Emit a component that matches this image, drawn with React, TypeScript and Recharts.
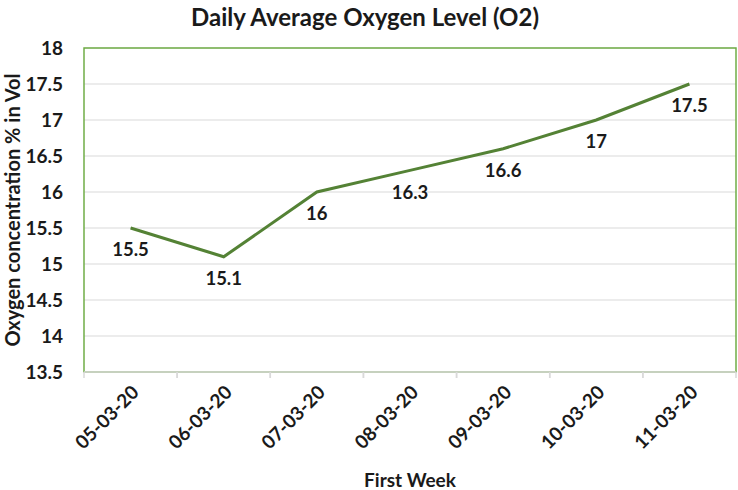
import React from "react";
import { LineChart, Line, XAxis, YAxis, CartesianGrid, LabelList, ReferenceArea } from "recharts";

const dates = ["05-03-20", "06-03-20", "07-03-20", "08-03-20", "09-03-20", "10-03-20", "11-03-20"];
const oxygen = [15.5, 15.1, 16, 16.3, 16.6, 17, 17.5];
const yTicks = [13.5, 14, 14.5, 15, 15.5, 16, 16.5, 17, 17.5, 18];

const data = dates.map((d, i) => ({ date: d, o2: oxygen[i] }));

const FONT = "Lato, 'Open Sans', sans-serif";
const LINE = "#548235";
const BORDER = "#70AD47";
const GRID = "#D9D9D9";
const TEXT = "#1a1a1a";

// date label rotated -45deg plus the small tick marks at the category edges
function DateTick(props: any) {
  const { x, y, payload } = props;
  const half = payload && typeof payload.offset === "number" ? payload.offset : 0;
  const ty = y + 12;
  return (
    <g>
      <line x1={x - half} x2={x - half} y1={y} y2={y + 6} stroke={GRID} strokeWidth={1.5} />
      <line x1={x + half} x2={x + half} y1={y} y2={y + 6} stroke={GRID} strokeWidth={1.5} />
      <text
        x={x}
        y={ty}
        dy="0.71em"
        textAnchor="end"
        transform={`rotate(-45 ${x} ${ty})`}
        fill={TEXT}
        fontSize={19}
        fontWeight={700}
        fontFamily={FONT}
      >
        {payload.value}
      </text>
    </g>
  );
}

export default function App() {
  return (
    <div style={{ position: "absolute", left: 0, top: 0, width: 738, height: 490, fontFamily: FONT, background: "#fff" }}>
      <div
        style={{
          position: "absolute",
          left: 0,
          top: 2,
          width: 730,
          textAlign: "center",
          fontSize: 24,
          fontWeight: 700,
          color: TEXT,
          lineHeight: "30px",
        }}
      >
        Daily Average Oxygen Level (O2)
      </div>
      <div
        style={{
          position: "absolute",
          left: 12 - 200,
          top: 210 - 12,
          width: 400,
          height: 24,
          lineHeight: "24px",
          textAlign: "center",
          transform: "rotate(-90deg)",
          fontSize: 20,
          fontWeight: 700,
          color: TEXT,
        }}
      >
        Oxygen concentration % in Vol
      </div>
      <LineChart width={738} height={490} data={data} margin={{ top: 48, right: 2, bottom: 0, left: 0 }}>
        <CartesianGrid horizontal vertical={false} stroke={GRID} strokeWidth={1.2} />
        <XAxis
          dataKey="date"
          scale="band"
          height={118}
          axisLine={{ stroke: GRID, strokeWidth: 1.5 }}
          tickLine={false}
          interval={0}
          tickSize={0}
          tickMargin={0}
          tick={<DateTick />}
          label={{
            value: "First Week",
            position: "insideBottom",
            offset: 3,
            fill: TEXT,
            fontSize: 19,
            fontWeight: 700,
            fontFamily: FONT,
          }}
        />
        <YAxis
          domain={[13.5, 18]}
          ticks={yTicks}
          width={84}
          interval={0}
          tickLine={false}
          tickSize={0}
          tickMargin={21}
          axisLine={false}
          tick={{ fill: TEXT, fontSize: 19, fontWeight: 700, fontFamily: FONT }}
        />
        <ReferenceArea
          x1={dates[0]}
          x2={dates[dates.length - 1]}
          y1={13.5}
          y2={18}
          fill="none"
          fillOpacity={0}
          stroke={BORDER}
          strokeWidth={1.5}
          ifOverflow="visible"
        />
        <Line
          type="linear"
          dataKey="o2"
          stroke={LINE}
          strokeWidth={3}
          dot={false}
          isAnimationActive={false}
        >
          <LabelList
            dataKey="o2"
            position="bottom"
            offset={15}
            fill={TEXT}
            fontSize={18.5}
            fontWeight={700}
            fontFamily={FONT}
          />
        </Line>
      </LineChart>
    </div>
  );
}
